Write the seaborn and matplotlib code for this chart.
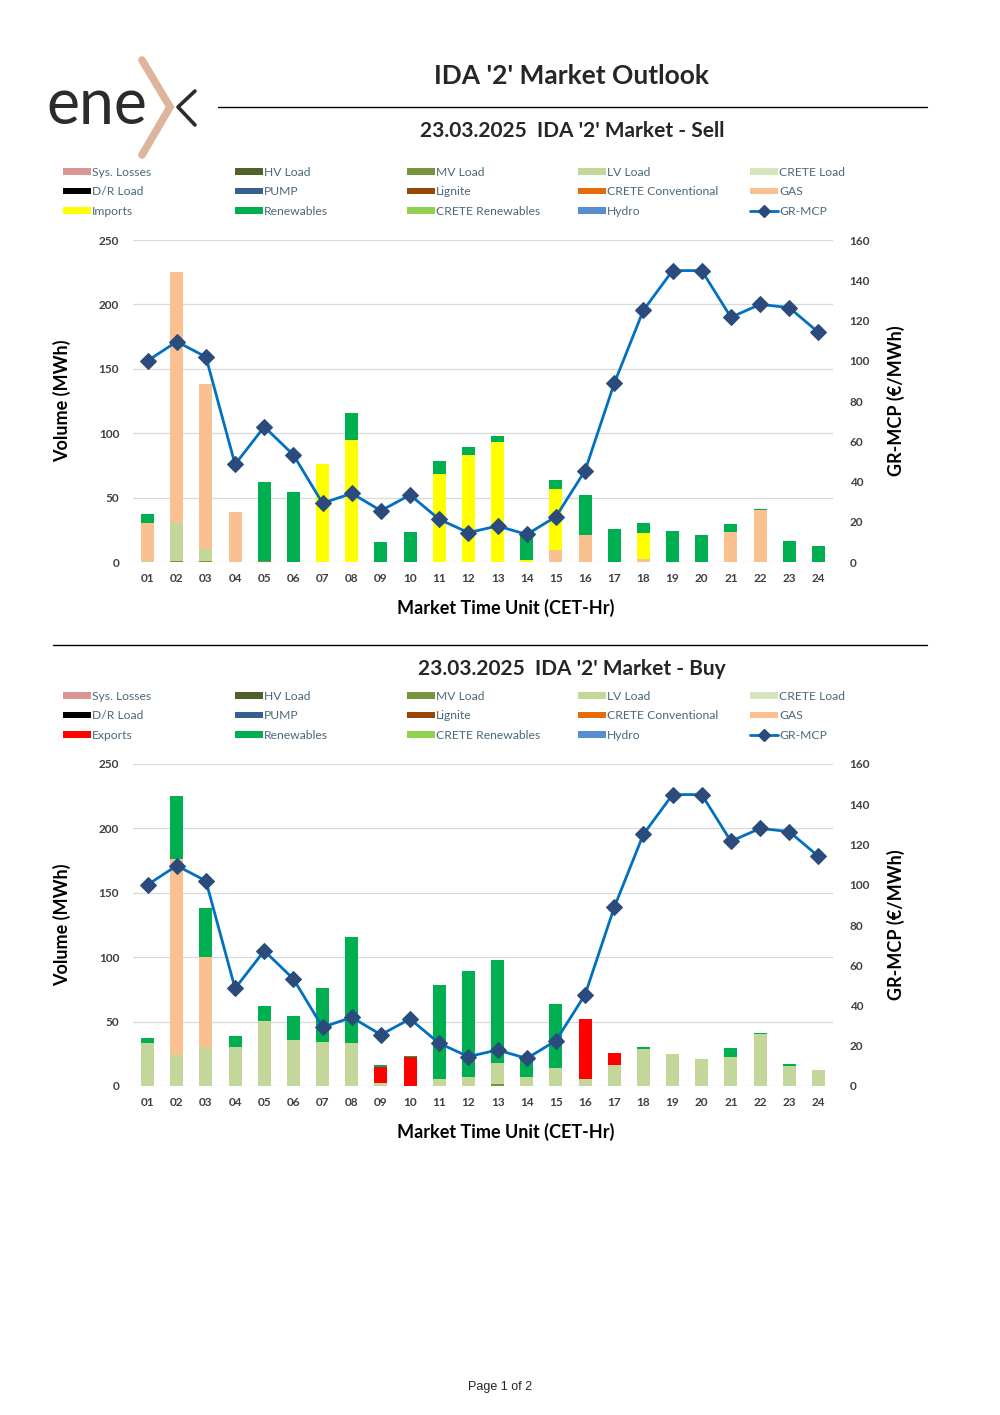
import numpy as np
import pandas as pd
import seaborn as sns
import matplotlib.pyplot as plt
from matplotlib.patches import Patch
from matplotlib.lines import Line2D

hours = ['%02d' % h for h in range(1, 25)]

# GR-MCP (EUR/MWh), same on both charts
mcp = [100, 109.5, 101.9, 48.5, 67.2, 53.2, 29.2, 34.1, 25.5, 33.3, 21.2, 14.6,
       17.9, 13.7, 22.5, 45.4, 88.8, 125.1, 144.8, 144.8, 121.6, 128, 126.4, 114.1]

# Sell side volumes (MWh)
sell_mv = [0, 1, 1, 0, 1, 0, 0, 0, 0, 0, 0, 0, 0, 0, 0, 0, 0, 0, 0, 0, 0, 0, 0, 0]
sell_lv = [1, 29.5, 9, 0, 0, 0, 0, 0, 0, 0, 0, 0, 0, 0, 0, 0, 0, 0, 0, 0, 0, 0, 0, 0]
sell_gas = [29.5, 195, 128.2, 39, 0, 0, 0, 0, 0, 0, 0, 0, 0, 0, 9.5, 21, 0, 2.5,
            0, 0, 23.5, 40, 0, 0]
sell_imports = [0, 0, 0, 0, 0, 0, 75.8, 95, 0, 0, 68, 83, 93.5, 1.5, 47.5, 0, 0, 20,
                0, 0, 0, 0, 0, 0]
sell_ren = [7, 0, 0, 0, 61, 54.3, 0, 20.5, 15.5, 23.3, 10.5, 6, 4, 20.5, 7, 31, 25.4, 8,
            24.3, 20.7, 5.7, 1.5, 16.3, 12.7]

# Buy side volumes (MWh)
buy_mv = [0, 0, 0, 0, 0, 0, 0, 0, 0, 0, 0, 0, 1.5, 0, 0, 0, 0, 0, 0, 0, 0, 0, 0, 0]
buy_lv = [33.5, 24, 30, 30, 50.5, 35.5, 34.5, 33.5, 2, 0, 5.5, 7, 16.5, 7, 14, 5.5,
          16, 29, 24.5, 21, 22.5, 40.5, 15.8, 12.7]
buy_gas = [0, 152.5, 70, 0, 0, 0, 0, 0, 0, 0, 0, 0, 0, 0, 0, 0, 0, 0, 0, 0, 0, 0, 0, 0]
buy_exports = [0, 0, 0, 0, 0, 0, 0, 0, 13, 22.5, 0, 0, 0, 0, 0, 46.5, 10, 0,
               0, 0, 0, 0, 0, 0]
buy_ren = [4, 49, 38.5, 9, 12, 19, 41.5, 82.5, 1, 1, 73, 82, 80, 15, 50, 0, 0, 1.5,
           0, 0, 7, 1, 1, 0]

colors = {
    'Sys. Losses': '#DA9694', 'HV Load': '#4F6228', 'MV Load': '#77933C',
    'LV Load': '#C4D79B', 'CRETE Load': '#D8E4BC', 'D/R Load': '#000000',
    'PUMP': '#376092', 'Lignite': '#974706', 'CRETE Conventional': '#E46C0A',
    'GAS': '#FAC090', 'Imports': '#FFFF00', 'Exports': '#FF0000',
    'Renewables': '#00B050', 'CRETE Renewables': '#92D050', 'Hydro': '#558ED5',
}
LINE_C = '#0070C0'
MARK_C = '#2A4B7C'
TXT = '#404040'
LEG_TXT = '#4A6878'
FONT = 'Lato'

sns.set_theme(style='white')
plt.rcParams['font.family'] = [FONT, 'DejaVu Sans']

W, H = 1000, 1415
fig = plt.figure(figsize=(10, 14.15), dpi=100)


def fx(x):
    return x / W


def fy(y):
    return 1 - y / H


def draw_chart(top, bottom, layers):
    ax = fig.add_axes([fx(133), fy(bottom), fx(700), (bottom - top) / H])
    # stacked bars drawn as overlapping cumulative totals, top layer first
    cum = np.cumsum([np.array(v, dtype=float) for _, v in layers], axis=0)
    for i in range(len(layers) - 1, -1, -1):
        df = pd.DataFrame({'hour': hours, 'vol': cum[i]})
        sns.barplot(data=df, x='hour', y='vol', color=colors[layers[i][0]],
                    width=0.45, errorbar=None, saturation=1, ax=ax, zorder=2,
                    linewidth=0)
    ax.set_ylim(0, 250)
    ax.set_xlim(-0.5, 23.5)
    ax.set_yticks(range(0, 251, 50))
    ax.yaxis.grid(True, color='#D9D9D9', lw=0.9)
    ax.set_axisbelow(True)
    for s in ax.spines.values():
        s.set_visible(False)
    ax.tick_params(length=0, labelsize=8.5, labelcolor=TXT, pad=10)
    ax.tick_params(axis='x', pad=8)
    for t in ax.get_xticklabels() + ax.get_yticklabels():
        t.set_fontweight('bold')
    ax.set_xlabel('Market Time Unit (CET-Hr)', fontsize=13, fontweight='bold',
                  color='black')
    ax.xaxis.set_label_coords(0.533, -0.115)
    ax.set_ylabel('Volume (MWh)', fontsize=13, fontweight='bold', color='black',
                  labelpad=20)

    ax2 = ax.twinx()
    sns.lineplot(x=np.arange(24), y=mcp, ax=ax2, color=LINE_C, lw=2,
                 marker='D', markersize=8, markerfacecolor=MARK_C,
                 markeredgecolor=MARK_C, zorder=5)
    ax2.set_ylim(0, 160)
    ax2.set_yticks(range(0, 161, 20))
    ax2.grid(False)
    for s in ax2.spines.values():
        s.set_visible(False)
    ax2.tick_params(length=0, labelsize=8.5, labelcolor=TXT, pad=12)
    for t in ax2.get_yticklabels():
        t.set_fontweight('bold')
    ax2.set_ylabel('GR-MCP (€/MWh)', fontsize=13, fontweight='bold',
                   color='black', labelpad=12)
    return ax


def draw_legend(y_top, flow_name):
    cols = [
        ['Sys. Losses', 'D/R Load', flow_name],
        ['HV Load', 'PUMP', 'Renewables'],
        ['MV Load', 'Lignite', 'CRETE Renewables'],
        ['LV Load', 'CRETE Conventional', 'Hydro'],
        ['CRETE Load', 'GAS', 'GR-MCP'],
    ]
    xs = [63, 235, 407, 578, 750]
    for x, names in zip(xs, cols):
        handles = []
        for n in names:
            if n == 'GR-MCP':
                handles.append(Line2D([], [], color=LINE_C, lw=2, marker='D',
                                      markersize=6, markerfacecolor=MARK_C,
                                      markeredgecolor=MARK_C, label=n))
            else:
                handles.append(Patch(facecolor=colors[n], edgecolor='none', label=n))
        leg = fig.legend(handles=handles, loc='upper left',
                         bbox_to_anchor=(fx(x), fy(y_top)), frameon=False,
                         fontsize=8.7, handlelength=2.3, handleheight=0.45,
                         handletextpad=0.1, labelspacing=0.7, borderpad=0,
                         borderaxespad=0)
        for t in leg.get_texts():
            t.set_color(LEG_TXT)


# header with logo
fig.text(fx(46), fy(106), 'ene', fontsize=45, color='#2B2B2B', va='center',
         ha='left', family=FONT)
fig.add_artist(Line2D([fx(142), fx(170), fx(142)], [fy(60), fy(107), fy(155)],
                      color='#DDB59C', lw=5.5, transform=fig.transFigure,
                      solid_joinstyle='miter'))
fig.add_artist(Line2D([fx(195), fx(178), fx(195)], [fy(91), fy(107), fy(125)],
                      color='#2B2B2B', lw=2.6, transform=fig.transFigure))
fig.text(fx(572), fy(76), "IDA '2' Market Outlook", fontsize=19, fontweight='bold',
         ha='center', va='center')
fig.add_artist(Line2D([fx(218), fx(927)], [fy(107), fy(107)], color='black', lw=1,
                      transform=fig.transFigure))

# sell chart
fig.text(fx(572), fy(131), "23.03.2025  IDA '2' Market - Sell", fontsize=15,
         fontweight='bold', ha='center', va='center')
draw_legend(167, 'Imports')
draw_chart(240, 562, [('MV Load', sell_mv), ('LV Load', sell_lv), ('GAS', sell_gas),
                      ('Imports', sell_imports), ('Renewables', sell_ren)])

fig.add_artist(Line2D([fx(53), fx(927)], [fy(645), fy(645)], color='black', lw=1,
                      transform=fig.transFigure))

# buy chart
fig.text(fx(572), fy(669), "23.03.2025  IDA '2' Market - Buy", fontsize=15,
         fontweight='bold', ha='center', va='center')
draw_legend(691, 'Exports')
draw_chart(764, 1086, [('MV Load', buy_mv), ('LV Load', buy_lv), ('GAS', buy_gas),
                       ('Exports', buy_exports), ('Renewables', buy_ren)])

fig.text(0.5, fy(1387), 'Page 1 of 2', fontsize=9, ha='center', va='center',
         family='Liberation Sans')

fig.savefig('out.png', dpi=100)
